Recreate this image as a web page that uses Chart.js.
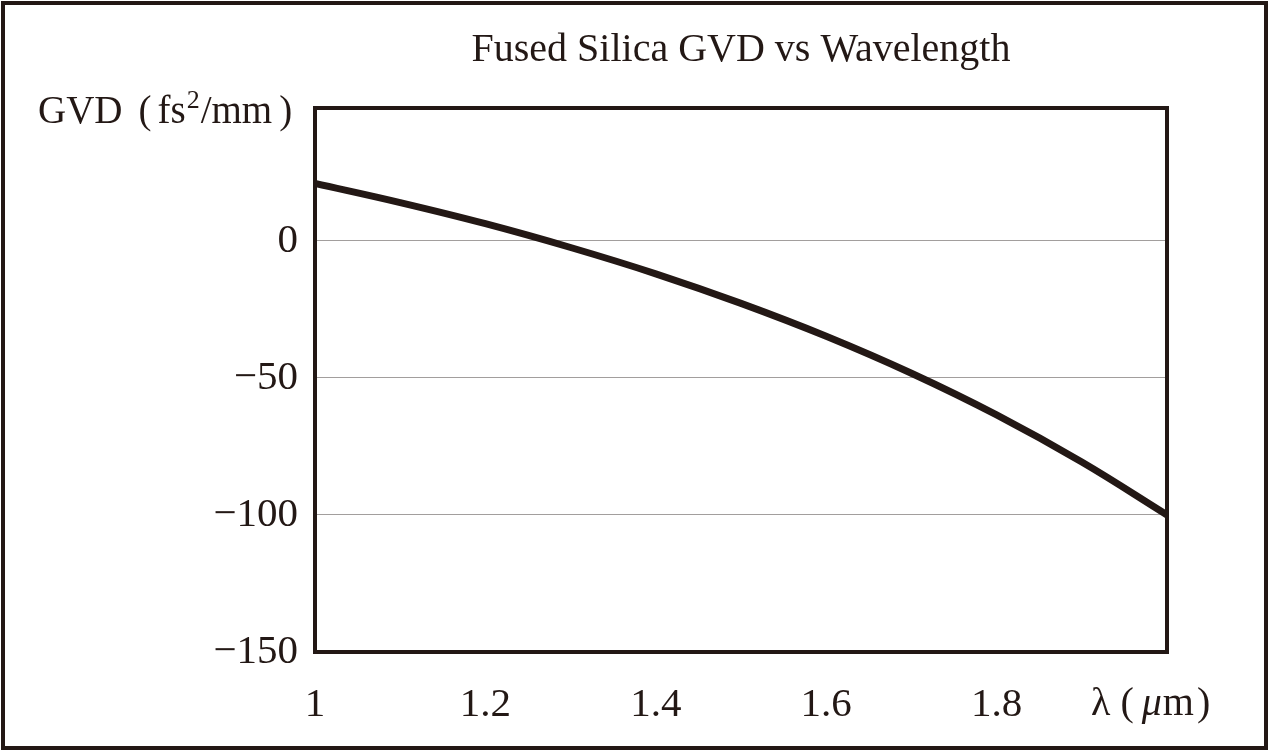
<!DOCTYPE html>
<html lang="en">
<head>
  <meta charset="UTF-8">
  <title>Fused Silica GVD vs Wavelength</title>
  <script src="https://cdn.jsdelivr.net/npm/chart.js@4/dist/chart.umd.min.js"></script>
  <style>
    body { margin: 0; background: #fff; }
    .wrap { position: relative; width: 1269px; height: 751px; }
    .frame { position: absolute; left: 1px; top: 1px; right: 1px; bottom: 1px; border: 4px solid #231815; pointer-events: none; }
  </style>
</head>
<body>
  <div class="wrap">
    <canvas id="gvd-graph" width="1269" height="751"></canvas>
    <div class="frame"></div>
  </div>

  <script>
const wavelengths = [1.0, 1.1, 1.2, 1.3, 1.4, 1.5, 1.6, 1.7, 1.8, 1.9, 2.0];
const gvdValues = [21, 14, 6.3, -2.4, -12, -22.8, -34.8, -48.3, -63.5, -80.7, -100];
const xTicks = [1, 1.2, 1.4, 1.6, 1.8, 2];
const yTicks = [-150, -100, -50, 0];

const ink = "#231815";
const serif = "'Liberation Serif', 'Times New Roman', serif";

const labelsPlugin = {
  id: "labels",
  afterDraw(chart) {
    const ctx = chart.ctx;
    const area = chart.chartArea;
    ctx.save();
    // plot frame
    ctx.strokeStyle = ink;
    ctx.lineWidth = 4;
    ctx.strokeRect(area.left, area.top, area.right - area.left, area.bottom - area.top);

    // y axis title, horizontal at top left
    ctx.fillStyle = ink;
    ctx.textBaseline = "alphabetic";
    ctx.textAlign = "left";
    let x = 38;
    const base = 123;
    ctx.font = "39px " + serif;
    ctx.fillText("GVD", x, base);
    x += ctx.measureText("GVD").width + 16;
    ctx.fillText("(", x, base);
    x += ctx.measureText("(").width + 6;
    ctx.fillText("fs", x, base);
    x += ctx.measureText("fs").width + 1;
    ctx.font = "26px " + serif;
    ctx.fillText("2", x, base - 15);
    x += ctx.measureText("2").width + 1;
    ctx.font = "39px " + serif;
    ctx.fillText("/mm", x, base);
    x += ctx.measureText("/mm").width + 7;
    ctx.fillText(")", x, base);

    // x axis title in place of the last tick label
    const xs = chart.scales.x;
    let lx = xs.getPixelForValue(2) - 76;
    const lb = 715;
    ctx.font = "40px " + serif;
    ctx.fillText("λ", lx, lb);
    lx += ctx.measureText("λ").width + 10;
    ctx.fillText("(", lx, lb);
    lx += ctx.measureText("(").width + 8;
    ctx.font = "italic 40px " + serif;
    ctx.fillText("μ", lx, lb);
    lx += ctx.measureText("μ").width + 1;
    ctx.font = "40px " + serif;
    ctx.fillText("m", lx, lb);
    lx += ctx.measureText("m").width + 3;
    ctx.fillText(")", lx, lb);
    ctx.restore();
  }
};

new Chart("gvd-graph", {
  type: "line",
  data: {
    datasets: [{
      data: wavelengths.map((w, i) => ({ x: w, y: gvdValues[i] })),
      borderColor: ink,
      borderWidth: 7,
      pointRadius: 0,
      fill: false,
      tension: 0.4
    }]
  },
  options: {
    responsive: false,
    animation: false,
    layout: { padding: { left: 0, right: 102, top: 0, bottom: 0 } },
    plugins: {
      legend: { display: false },
      tooltip: { enabled: false },
      title: {
        display: true,
        text: "Fused Silica GVD vs Wavelength",
        color: ink,
        fullSize: false,
        font: { family: serif, size: 40, weight: "normal" },
        padding: { top: 26, bottom: 34 }
      }
    },
    scales: {
      x: {
        type: "linear",
        min: 1,
        max: 2,
        afterBuildTicks: (s) => { s.ticks = xTicks.map(v => ({ value: v })); },
        afterFit: (s) => { s.height = 99; },
        grid: { display: false, drawTicks: false },
        border: { display: false },
        ticks: {
          color: ink,
          font: { family: serif, size: 41 },
          padding: 29,
          maxRotation: 0,
          autoSkip: false,
          callback: (v) => v >= 2 ? "" : String(Number(v.toFixed(1)))
        }
      },
      y: {
        min: -150,
        max: 48.5,
        afterBuildTicks: (s) => { s.ticks = yTicks.map(v => ({ value: v })); },
        afterFit: (s) => { s.width = 315; },
        grid: {
          drawTicks: false,
          lineWidth: 1,
          color: (c) => c.tick && c.tick.value === -150 ? "rgba(0,0,0,0)" : "#a29e9d"
        },
        border: { display: false },
        ticks: {
          color: ink,
          font: { family: serif, size: 41 },
          padding: 17,
          callback: (v) => v < 0 ? "\u2212" + Math.abs(v) : String(v)
        }
      }
    }
  },
  plugins: [labelsPlugin]
});
  </script>
</body>
</html>
